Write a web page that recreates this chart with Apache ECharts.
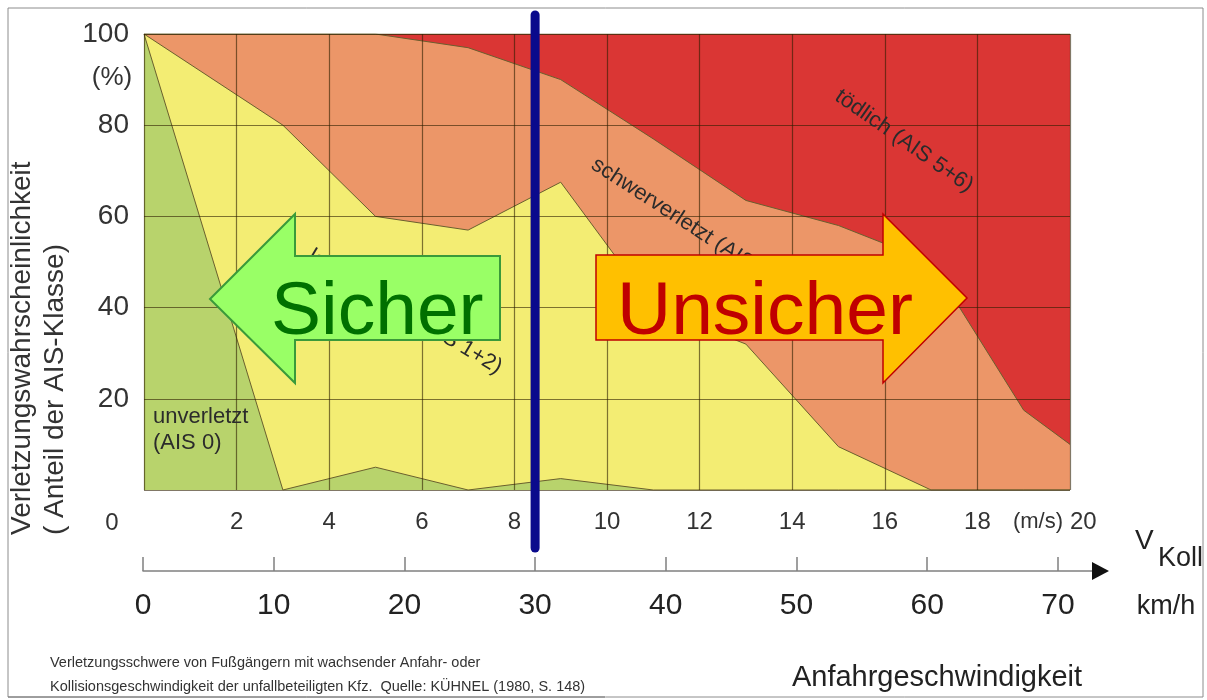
<!DOCTYPE html>
<html>
<head>
<meta charset="utf-8">
<title>Verletzungsschwere von Fußgängern</title>
<script src="https://cdn.jsdelivr.net/npm/echarts@6/dist/echarts.min.js"></script>
<style>
  html, body { margin: 0; padding: 0; background: #fff; }
  #chart { width: 1207px; height: 700px; }
</style>
</head>
<body>
<div id="chart"></div>
<script>
// Kollisionsgeschwindigkeit (m/s)
const speeds = [0, 3, 5, 7, 9, 11, 13, 15, 17, 19, 20];
// Anteil je AIS-Klasse (%)
const unverletzt     = [100, 0, 5, 0, 2.5, 0, 0, 0, 0, 0, 0];
const leichtverletzt = [0, 80, 55, 57, 65, 40, 32, 9.5, 0, 0, 0];
const schwerverletzt = [0, 20, 40, 40, 22.5, 37, 31.5, 48.5, 50, 17.5, 10];
const toedlich       = [0, 0, 0, 3, 10, 23, 36.5, 42, 50, 82.5, 90];

// Achsen
const msTicks  = [0, 2, 4, 6, 8, 10, 12, 14, 16, 18, 20];
const pctTicks = [0, 20, 40, 60, 80, 100];
const kmhTicks = [0, 10, 20, 30, 40, 50, 60, 70];

const FONT = '"Liberation Sans", Arial, sans-serif';
const gridColor = 'rgba(45,30,0,0.6)';

// obere Grenze jeder Klasse = Summe der Anteile darunter
function cumulate(bands) {
    return speeds.map(function (x, i) {
        let s = 0;
        bands.forEach(function (b) { s += b[i]; });
        return [x, s];
    });
}

// von oben nach unten zeichnen, die unteren Flaechen liegen darueber
const layers = [
    { name: 'tödlich',        color: '#da3634', bands: [unverletzt, leichtverletzt, schwerverletzt, toedlich] },
    { name: 'schwerverletzt', color: '#ec9668', bands: [unverletzt, leichtverletzt, schwerverletzt] },
    { name: 'leichtverletzt', color: '#f3ed73', bands: [unverletzt, leichtverletzt] },
    { name: 'unverletzt',     color: '#b8d36c', bands: [unverletzt] }
];

const chart = echarts.init(document.getElementById('chart'));

chart.setOption({
    backgroundColor: '#fff',
    animation: false,
    textStyle: { fontFamily: FONT },
    grid: [
        { left: 144, top: 34, width: 926, height: 456 },
        { left: 143, top: 560, width: 957, height: 11 }   // km/h Achse
    ],
    xAxis: [
        {
            type: 'value', gridIndex: 0, z: 3,
            min: msTicks[0], max: msTicks[msTicks.length - 1], interval: 2,
            axisLine: { show: false },
            axisTick: { show: false },
            axisLabel: {
                margin: 20, fontSize: 24, color: '#333', fontFamily: FONT,
                alignMaxLabel: 'left',
                formatter: function (v) { return v === 0 ? '' : v; }
            },
            splitLine: { show: true, lineStyle: { color: gridColor, width: 1.2 } }
        },
        {
            type: 'value', gridIndex: 1,
            min: 0, max: 957 / 13.07,
            position: 'bottom',
            axisLine: { show: true, lineStyle: { color: '#808080', width: 1.5 } },
            axisTick: { show: true, inside: true, length: 14, customValues: kmhTicks,
                        lineStyle: { color: '#808080', width: 1.5 } },
            axisLabel: { customValues: kmhTicks, margin: 20, fontSize: 30, color: '#222', fontFamily: FONT },
            splitLine: { show: false }
        }
    ],
    yAxis: [
        {
            type: 'value', gridIndex: 0, z: 3,
            min: pctTicks[0], max: pctTicks[pctTicks.length - 1], interval: 20,
            axisLine: { show: false },
            axisTick: { show: false },
            axisLabel: {
                margin: 15, fontSize: 28, color: '#333', fontFamily: FONT,
                formatter: function (v) { return v === 0 ? '' : v; }
            },
            splitLine: { show: true, lineStyle: { color: gridColor, width: 1.2 } }
        },
        { type: 'value', gridIndex: 1, show: false, min: 0, max: 1 }
    ],
    series: layers.map(function (l) {
        return {
            name: l.name,
            type: 'line',
            xAxisIndex: 0, yAxisIndex: 0,
            data: cumulate(l.bands),
            symbol: 'none',
            silent: true,
            z: 2,
            lineStyle: { color: '#6a5f2e', width: 1 },
            areaStyle: { color: l.color, opacity: 1, origin: 'start' }
        };
    })
});

// 30 km/h Linie an der km/h Achse ausrichten
const x30 = chart.convertToPixel({ xAxisIndex: 1 }, 30);

function txt(x, y, text, size, opts) {
    opts = opts || {};
    return {
        type: 'text', x: x, y: y, z: opts.z || 10, silent: true,
        rotation: opts.rotation || 0,
        style: {
            text: text,
            font: (opts.weight || 'normal') + ' ' + size + 'px ' + FONT,
            fill: opts.fill || '#333',
            align: opts.align || 'center',
            verticalAlign: 'middle',
            lineHeight: opts.lineHeight
        }
    };
}

const deg = Math.PI / 180;

chart.setOption({
    graphic: [
        // Rahmen
        { type: 'rect', z: 0, silent: true, shape: { x: 8, y: 8, width: 1195, height: 689 },
          style: { fill: 'none', stroke: '#8c8c8c', lineWidth: 1 } },

        // Achsentitel
        txt(22, 535, 'Verletzungswahrscheinlichkeit', 28, { rotation: Math.PI / 2, align: 'left', fill: '#333' }),
        txt(55, 535, '( Anteil der AIS-Klasse)', 28, { rotation: Math.PI / 2, align: 'left', fill: '#333' }),
        txt(112, 78, '(%)', 26),
        txt(112, 523, '0', 24),
        txt(1038, 522, '(m/s)', 22),
        txt(1135, 541, 'V', 28, { align: 'left', fill: '#222' }),
        txt(1158, 559, 'Koll', 27, { align: 'left', fill: '#222' }),
        txt(1166, 607, 'km/h', 27, { fill: '#222' }),
        txt(937, 678, 'Anfahrgeschwindigkeit', 29, { fill: '#222' }),

        // Pfeilspitze der km/h Achse
        { type: 'polygon', z: 10, silent: true,
          shape: { points: [[1092, 562], [1109, 571], [1092, 580]] }, style: { fill: '#111' } },

        // Klassen
        txt(153, 430, 'unverletzt\n(AIS 0)', 22, { align: 'left', lineHeight: 26, fill: '#2b2b2b' }),
        txt(405, 312, 'leichtverletzt (AIS 1+2)', 22, { rotation: -31 * deg, fill: '#2b2b2b' }),
        txt(694, 228, 'schwerverletzt (AIS 3+4)', 22, { rotation: -33 * deg, fill: '#2b2b2b' }),
        txt(904, 141, 'tödlich (AIS 5+6)', 22, { rotation: -35 * deg, fill: '#2b2b2b' }),

        // Pfeile
        { type: 'polygon', z: 20, silent: true,
          shape: { points: [[210, 299], [295, 214], [295, 256], [500, 256], [500, 340], [295, 340], [295, 383]] },
          style: { fill: '#99ff66', stroke: '#3a9a3a', lineWidth: 2 } },
        txt(271, 313, 'Sicher', 75, { align: 'left', fill: '#007000', z: 21 }),
        { type: 'polygon', z: 20, silent: true,
          shape: { points: [[596, 255], [883, 255], [883, 214], [967, 298], [883, 383], [883, 340], [596, 340]] },
          style: { fill: '#ffc000', stroke: '#c00000', lineWidth: 1.5 } },
        txt(617, 313, 'Unsicher', 75, { align: 'left', fill: '#c00000', z: 21 }),

        // 30 km/h
        { type: 'line', z: 30, silent: true,
          shape: { x1: x30, y1: 15, x2: x30, y2: 548 },
          style: { stroke: '#0a0a8c', lineWidth: 9, lineCap: 'round' } },

        // Quelle
        txt(50, 663, 'Verletzungsschwere von Fußgängern mit wachsender Anfahr- oder', 14.5, { align: 'left', fill: '#333' }),
        txt(50, 687, 'Kollisionsgeschwindigkeit der unfallbeteiligten Kfz.  Quelle: KÜHNEL (1980, S. 148)', 14.5, { align: 'left', fill: '#333' }),
        { type: 'line', z: 0, silent: true, shape: { x1: 8, y1: 697, x2: 605, y2: 697 },
          style: { stroke: '#777', lineWidth: 1 } }
    ]
});
</script>
</body>
</html>
